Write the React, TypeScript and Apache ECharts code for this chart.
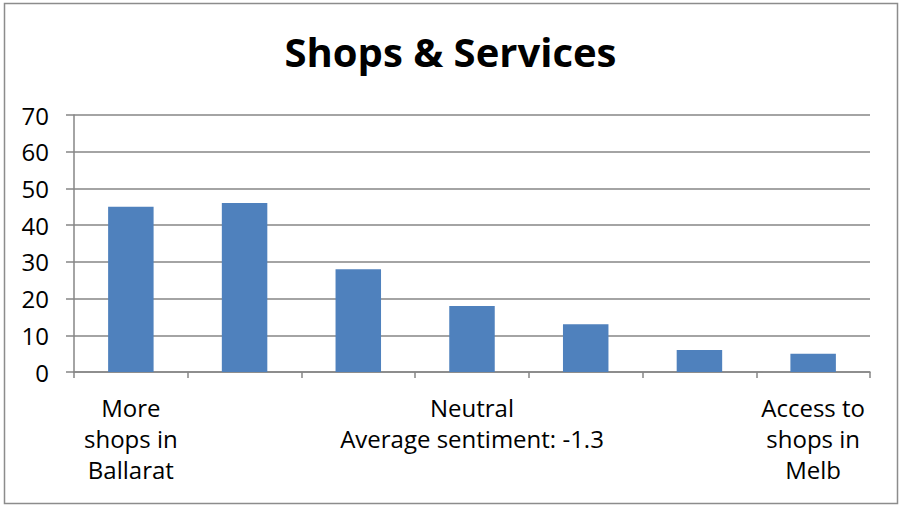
import React, { useEffect, useRef } from "react";
import * as echarts from "echarts";

const categories = [
  "More\nshops in\nBallarat",
  "",
  "",
  "Neutral\nAverage sentiment: -1.3",
  "",
  "",
  "Access to\nshops in\nMelb",
];
const values = [45, 46, 28, 18, 13, 6, 5];
const titleText = "Shops & Services";

export default function App() {
  const ref = useRef<HTMLDivElement>(null);
  useEffect(() => {
    const chart = echarts.init(ref.current!, null, { renderer: "svg" });
    const font = "'Open Sans', Calibri, sans-serif";
    chart.setOption({
      animation: false,
      backgroundColor: "#ffffff",
      title: {
        text: titleText,
        left: "center",
        top: 26,
        textStyle: { fontFamily: font, fontSize: 40, fontWeight: "bold", color: "#000" },
      },
      graphic: [
        {
          type: "rect",
          shape: { x: 4.5, y: 3.5, width: 893, height: 500 },
          style: { fill: "none", stroke: "#8c8c8c", lineWidth: 1.5 },
          silent: true,
        },
      ],
      grid: { left: 74, right: 31, top: 115, bottom: 134 },
      xAxis: {
        type: "category",
        data: categories,
        axisLine: { show: true, lineStyle: { color: "#868686", width: 1.5 } },
        axisTick: { show: true, length: 6, alignWithLabel: false, lineStyle: { color: "#868686", width: 1.5 } },
        axisLabel: {
          interval: 0,
          margin: 20,
          fontFamily: font,
          fontSize: 24,
          lineHeight: 31,
          color: "#000",
        },
        splitLine: { show: false },
      },
      yAxis: {
        type: "value",
        min: 0,
        max: 70,
        interval: 10,
        axisLine: { show: true, lineStyle: { color: "#868686", width: 1.5 } },
        axisTick: { show: true, length: 8, lineStyle: { color: "#868686", width: 1.5 } },
        axisLabel: { margin: 25, fontFamily: font, fontSize: 24, color: "#000" },
        splitLine: { show: true, lineStyle: { color: "#868686", width: 1.5 } },
      },
      series: [
        {
          type: "bar",
          data: values,
          barWidth: "40%",
          itemStyle: { color: "#4F81BD" },
        },
      ],
    });
    return () => chart.dispose();
  }, []);
  return (
    <div
      ref={ref}
      style={{ position: "fixed", left: 0, top: 0, width: 901, height: 506 }}
    />
  );
}
